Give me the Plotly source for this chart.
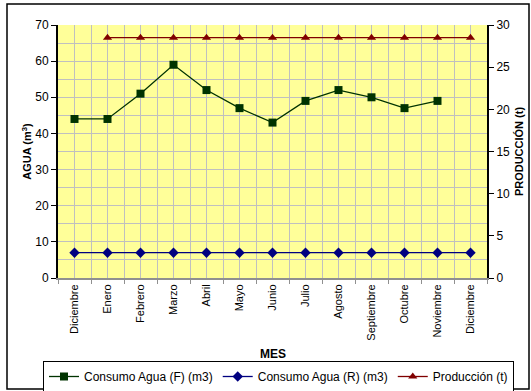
import plotly.graph_objects as go

meses = ["Diciembre", "Enero", "Febrero", "Marzo", "Abril", "Mayo", "Junio",
         "Julio", "Agosto", "Septiembre", "Octubre", "Noviembre", "Diciembre"]
agua_f = [44, 44, 51, 59, 52, 47, 43, 49, 52, 50, 47, 49, None]
agua_r = [7, 7, 7, 7, 7, 7, 7, 7, 7, 7, 7, 7, 7]
produccion = [None, 28.5, 28.5, 28.5, 28.5, 28.5, 28.5, 28.5, 28.5, 28.5, 28.5, 28.5, 28.5]

x = list(range(len(meses)))
font = "Liberation Sans, Arial, sans-serif"

fig = go.Figure()
fig.add_trace(go.Scatter(x=x, y=agua_f, name="Consumo Agua (F) (m3)", mode="lines+markers",
                         line=dict(color="#003300", width=1.3),
                         marker=dict(symbol="square", size=8, color="#003300")))
fig.add_trace(go.Scatter(x=x, y=agua_r, name="Consumo Agua (R) (m3)", mode="lines+markers",
                         line=dict(color="#000080", width=1.3),
                         marker=dict(symbol="diamond", size=8, color="#000080")))
fig.add_trace(go.Scatter(x=x, y=produccion, name="Producción (t)", mode="lines+markers",
                         yaxis="y2",
                         line=dict(color="#800000", width=1.3),
                         marker=dict(symbol="triangle-up", size=8, color="#800000")))

fig.update_layout(
    width=531, height=391,
    margin=dict(l=58, r=44, t=25, b=113, autoexpand=False),
    paper_bgcolor="white", plot_bgcolor="#FFFF99",
    font=dict(family=font, size=11, color="black"),
    showlegend=True,
    legend=dict(orientation="h", x=(43 - 58) / 429, xanchor="left",
                y=(278 - 361) / 253, yanchor="top",
                bordercolor="black", borderwidth=1, bgcolor="white",
                font=dict(size=12), itemwidth=30, tracegroupgap=0),
    xaxis=dict(range=[-0.5, 12.5], tickmode="array", tickvals=x, ticktext=meses,
               tickangle=-90, ticks="", showgrid=True, gridcolor="#C0C0C0", gridwidth=1,
               showline=True, linecolor="#909090", linewidth=2, zeroline=False,
               tickfont=dict(size=11),
               minor=dict(tickmode="linear", tick0=0.5, dtick=1, ticks="outside",
                          ticklen=4, tickcolor="#909090", showgrid=True,
                          gridcolor="#C0C0C0", gridwidth=1)),
    yaxis=dict(range=[0, 70], dtick=10, ticks="outside", ticklen=5, tickcolor="black",
               showgrid=True, gridcolor="#C0C0C0", gridwidth=1,
               showline=True, linecolor="black", linewidth=2, zeroline=False,
               tickfont=dict(size=12),
               title=dict(text="<b>AGUA (m<sup>3</sup>)</b>", font=dict(size=11), standoff=1),
               minor=dict(dtick=5, showgrid=True, gridcolor="#C0C0C0", gridwidth=1)),
    yaxis2=dict(range=[0, 30], dtick=5, overlaying="y", side="right", ticks="outside",
                ticklen=5, tickcolor="black", showgrid=False,
                showline=True, linecolor="black", linewidth=2, zeroline=False,
                tickfont=dict(size=12),
                title=dict(text="<b>PRODUCCIÓN (t)</b>", font=dict(size=11), standoff=6)),
)

fig.add_annotation(text="<b>MES</b>", xref="paper", yref="paper", x=0.5, y=-0.300,
                   showarrow=False, font=dict(size=12), xanchor="center", yanchor="middle")

fig.add_shape(type="rect", xref="paper", yref="paper",
              x0=(7 - 58) / 429, x1=(529 - 58) / 429,
              y0=(278 - 389) / 253, y1=(278 - 4) / 253,
              line=dict(color="black", width=1.5), layer="below")

fig.write_html("out.html")
